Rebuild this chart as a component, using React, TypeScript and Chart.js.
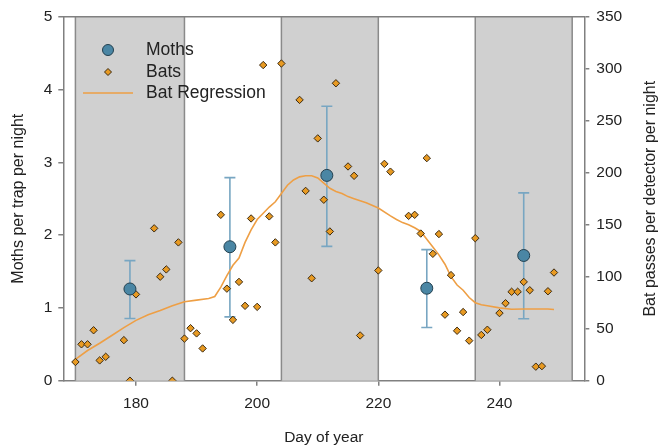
import React, { useEffect, useRef } from "react";
import { Chart, registerables } from "chart.js";

Chart.register(...registerables);

const FONT = "'Liberation Sans', Arial, sans-serif";

const xTickValues = [180, 200, 220, 240];
const bandStarts = [170, 204, 236];
const bandEnds = [188, 220, 252];

const mothDays = [179, 195.5, 211.5, 228, 244];
const mothMeans = [1.26, 1.84, 2.82, 1.27, 1.72];
const mothUpper = [1.65, 2.79, 3.77, 1.8, 2.58];
const mothLower = [0.855, 0.877, 1.845, 0.73, 0.85];

const batDays = [
  170, 171, 172, 173, 174, 175, 178, 179, 180, 183, 184, 185, 186, 187, 188, 189, 190, 191,
  194, 195, 196, 197, 198, 199, 200, 201, 202, 203, 204, 207, 208, 209, 210, 211, 212, 213,
  215, 216, 217, 220, 221, 222, 225, 226, 227, 228, 229, 230, 231, 232, 233, 234, 235, 236,
  237, 238, 240, 241, 242, 243, 244, 245, 246, 247, 248, 249,
];
const batPasses = [
  18, 35, 35, 48.5, 19.5, 23, 39, 0, 83, 146.5, 100, 107, 0, 133, 40.5, 50.5, 45.5, 31,
  159.5, 88.5, 58.5, 95, 72, 156, 71, 303.5, 158, 133, 305, 270, 182.5, 98.5, 233, 174, 143.5, 286,
  206, 197, 43.5, 106, 208.5, 201, 158.5, 159.5, 141.5, 214, 122, 141, 63.5, 101.5, 48, 66, 38.5, 137,
  44, 49, 65, 74.5, 85.5, 85.5, 95, 87, 13.5, 14, 86, 104,
];

const regDays = [
  170, 172, 174, 176, 178, 180, 182, 184, 186, 188, 190, 192, 193, 194, 195, 196, 197, 198,
  199, 200, 201, 202, 203, 204, 205, 206, 207, 208, 209, 210, 211, 212, 213, 214, 215, 216,
  218, 220, 222, 223, 224, 225, 226, 227, 228, 229, 230, 231, 232, 233, 234, 235, 236, 237,
  238, 240, 242, 244, 246, 248, 249,
];
const regPasses = [
  20.5, 29, 36, 43.5, 51, 58, 63.5, 67.5, 72, 76, 77.5, 79, 81, 90, 101, 111, 118, 133,
  145, 155, 161, 167, 172, 180, 188, 193, 196, 197, 197, 195, 190, 185, 182, 180, 177, 175,
  171, 166, 158.5, 155, 152, 150, 147, 143.5, 136, 128.5, 121, 112, 100, 92, 87, 80, 75, 73,
  72, 70, 68.7, 69, 69, 69, 68.5,
];

const MOTH_FILL = "#4a86a4";
const MOTH_BORDER = "#23404f";
const ERR_COLOR = "#78a6c2";
const BAT_FILL = "#e89a22";
const BAT_BORDER = "#3a2a12";
const REG_COLOR = "#ee9f45";
const AXIS_COLOR = "#808080";
const TEXT_COLOR = "#222222";

const decorPlugin = {
  id: "decor",
  beforeDatasetsDraw(chart: any) {
    const { ctx, chartArea, scales } = chart;
    const x = scales.x;
    const y = scales.y;
    ctx.save();
    for (let i = 0; i < bandStarts.length; i++) {
      const x0 = x.getPixelForValue(bandStarts[i]);
      const x1 = x.getPixelForValue(bandEnds[i]);
      ctx.fillStyle = "#d0d0d0";
      ctx.fillRect(x0, chartArea.top, x1 - x0, chartArea.bottom - chartArea.top);
      ctx.strokeStyle = "#8a8a8a";
      ctx.lineWidth = 1.5;
      ctx.beginPath();
      ctx.moveTo(x0, chartArea.top);
      ctx.lineTo(x0, chartArea.bottom);
      ctx.moveTo(x1, chartArea.top);
      ctx.lineTo(x1, chartArea.bottom);
      ctx.stroke();
    }
    // error bars
    ctx.strokeStyle = ERR_COLOR;
    ctx.lineWidth = 1.6;
    for (let i = 0; i < mothDays.length; i++) {
      const px = x.getPixelForValue(mothDays[i]);
      const pt = y.getPixelForValue(mothUpper[i]);
      const pb = y.getPixelForValue(mothLower[i]);
      ctx.beginPath();
      ctx.moveTo(px, pt);
      ctx.lineTo(px, pb);
      ctx.moveTo(px - 5.5, pt);
      ctx.lineTo(px + 5.5, pt);
      ctx.moveTo(px - 5.5, pb);
      ctx.lineTo(px + 5.5, pb);
      ctx.stroke();
    }
    ctx.restore();
  },
  afterDraw(chart: any) {
    const { ctx, chartArea } = chart;
    ctx.save();
    // top frame line
    ctx.strokeStyle = AXIS_COLOR;
    ctx.lineWidth = 1.5;
    ctx.beginPath();
    ctx.moveTo(chartArea.left, chartArea.top);
    ctx.lineTo(chartArea.right, chartArea.top);
    ctx.stroke();

    // legend
    ctx.font = `17.5px ${FONT}`;
    ctx.fillStyle = TEXT_COLOR;
    ctx.textBaseline = "middle";
    ctx.textAlign = "left";
    // Moths
    ctx.beginPath();
    ctx.arc(108, 50, 5.5, 0, Math.PI * 2);
    ctx.fillStyle = MOTH_FILL;
    ctx.fill();
    ctx.strokeStyle = MOTH_BORDER;
    ctx.lineWidth = 1;
    ctx.stroke();
    // Bats
    ctx.beginPath();
    ctx.moveTo(108, 72 - 3.5);
    ctx.lineTo(108 + 3.5, 72);
    ctx.lineTo(108, 72 + 3.5);
    ctx.lineTo(108 - 3.5, 72);
    ctx.closePath();
    ctx.fillStyle = BAT_FILL;
    ctx.fill();
    ctx.strokeStyle = BAT_BORDER;
    ctx.stroke();
    // Regression
    ctx.beginPath();
    ctx.moveTo(83, 93);
    ctx.lineTo(133, 93);
    ctx.strokeStyle = REG_COLOR;
    ctx.lineWidth = 1.6;
    ctx.stroke();

    ctx.fillStyle = TEXT_COLOR;
    ctx.fillText("Moths", 146, 50);
    ctx.fillText("Bats", 146, 72);
    ctx.fillText("Bat Regression", 146, 93);

    // right axis title (reads bottom to top)
    ctx.translate(651, (chartArea.top + chartArea.bottom) / 2);
    ctx.rotate(-Math.PI / 2);
    ctx.textAlign = "center";
    ctx.font = `16px ${FONT}`;
    ctx.fillText("Bat passes per detector per night", 0, 0);
    ctx.restore();
  },
};

export default function App() {
  const canvasRef = useRef<HTMLCanvasElement | null>(null);

  useEffect(() => {
    document.body.style.margin = "0";
    const canvas = canvasRef.current;
    if (!canvas) return;

    const chart = new Chart(canvas, {
      type: "scatter",
      data: {
        datasets: [
          {
            label: "Moths",
            data: mothDays.map((d, i) => ({ x: d, y: mothMeans[i] })),
            yAxisID: "y",
            pointRadius: 6,
            pointBackgroundColor: MOTH_FILL,
            pointBorderColor: MOTH_BORDER,
            pointBorderWidth: 1,
            order: 0,
          },
          {
            label: "Bats",
            data: batDays.map((d, i) => ({ x: d, y: batPasses[i] })),
            yAxisID: "y2",
            pointStyle: "rectRot",
            pointRadius: 3.7,
            pointBackgroundColor: BAT_FILL,
            pointBorderColor: BAT_BORDER,
            pointBorderWidth: 1,
            order: 1,
          },
          {
            type: "line",
            label: "Bat Regression",
            data: regDays.map((d, i) => ({ x: d, y: regPasses[i] })),
            yAxisID: "y2",
            borderColor: REG_COLOR,
            borderWidth: 1.6,
            pointRadius: 0,
            fill: false,
            tension: 0,
            order: 2,
          } as any,
        ],
      },
      options: {
        responsive: false,
        animation: false,
        events: [],
        layout: { padding: { top: 16.7, left: 0, right: 0, bottom: 0 } },
        plugins: {
          legend: { display: false },
          tooltip: { enabled: false },
        },
        scales: {
          x: {
            type: "linear",
            position: "bottom",
            min: 168,
            max: 254,
            afterBuildTicks: (scale: any) => {
              scale.ticks = xTickValues.map((v) => ({ value: v }));
            },
            afterFit: (scale: any) => {
              scale.height = 64.3;
            },
            ticks: {
              color: TEXT_COLOR,
              font: { family: FONT, size: 15.5 },
              padding: 9,
              maxRotation: 0,
            },
            grid: {
              drawOnChartArea: false,
              drawTicks: true,
              tickLength: 5,
              color: AXIS_COLOR,
              lineWidth: 1.5,
            },
            border: { color: AXIS_COLOR, width: 1.5 },
            title: {
              display: true,
              text: "Day of year",
              color: TEXT_COLOR,
              font: { family: FONT, size: 15.5, lineHeight: 1 },
              padding: { top: 0, bottom: -0.5 },
            },
          },
          y: {
            type: "linear",
            position: "left",
            min: 0,
            max: 5,
            ticks: {
              stepSize: 1,
              color: TEXT_COLOR,
              font: { family: FONT, size: 15.5 },
              padding: 6,
            },
            afterFit: (scale: any) => {
              scale.width = 63.3;
            },
            grid: {
              drawOnChartArea: false,
              drawTicks: true,
              tickLength: 5,
              color: AXIS_COLOR,
              lineWidth: 1.5,
            },
            border: { color: AXIS_COLOR, width: 1.5 },
            title: {
              display: true,
              text: "Moths per trap per night",
              color: TEXT_COLOR,
              font: { family: FONT, size: 16, lineHeight: 1 },
              padding: { top: 10.5, bottom: 0 },
            },
          },
          y2: {
            type: "linear",
            position: "right",
            min: 0,
            max: 350,
            ticks: {
              stepSize: 50,
              color: TEXT_COLOR,
              font: { family: FONT, size: 15.5 },
              padding: 7,
            },
            afterFit: (scale: any) => {
              scale.width = 76.7;
            },
            grid: {
              drawOnChartArea: false,
              drawTicks: true,
              tickLength: 5,
              color: AXIS_COLOR,
              lineWidth: 1.5,
            },
            border: { color: AXIS_COLOR, width: 1.5 },
          },
        },
      } as any,
      plugins: [decorPlugin],
    });

    return () => {
      chart.destroy();
    };
  }, []);

  return (
    <div style={{ width: 661, height: 445, position: "relative" }}>
      <canvas ref={canvasRef} width={661} height={445} style={{ display: "block" }} />
    </div>
  );
}
